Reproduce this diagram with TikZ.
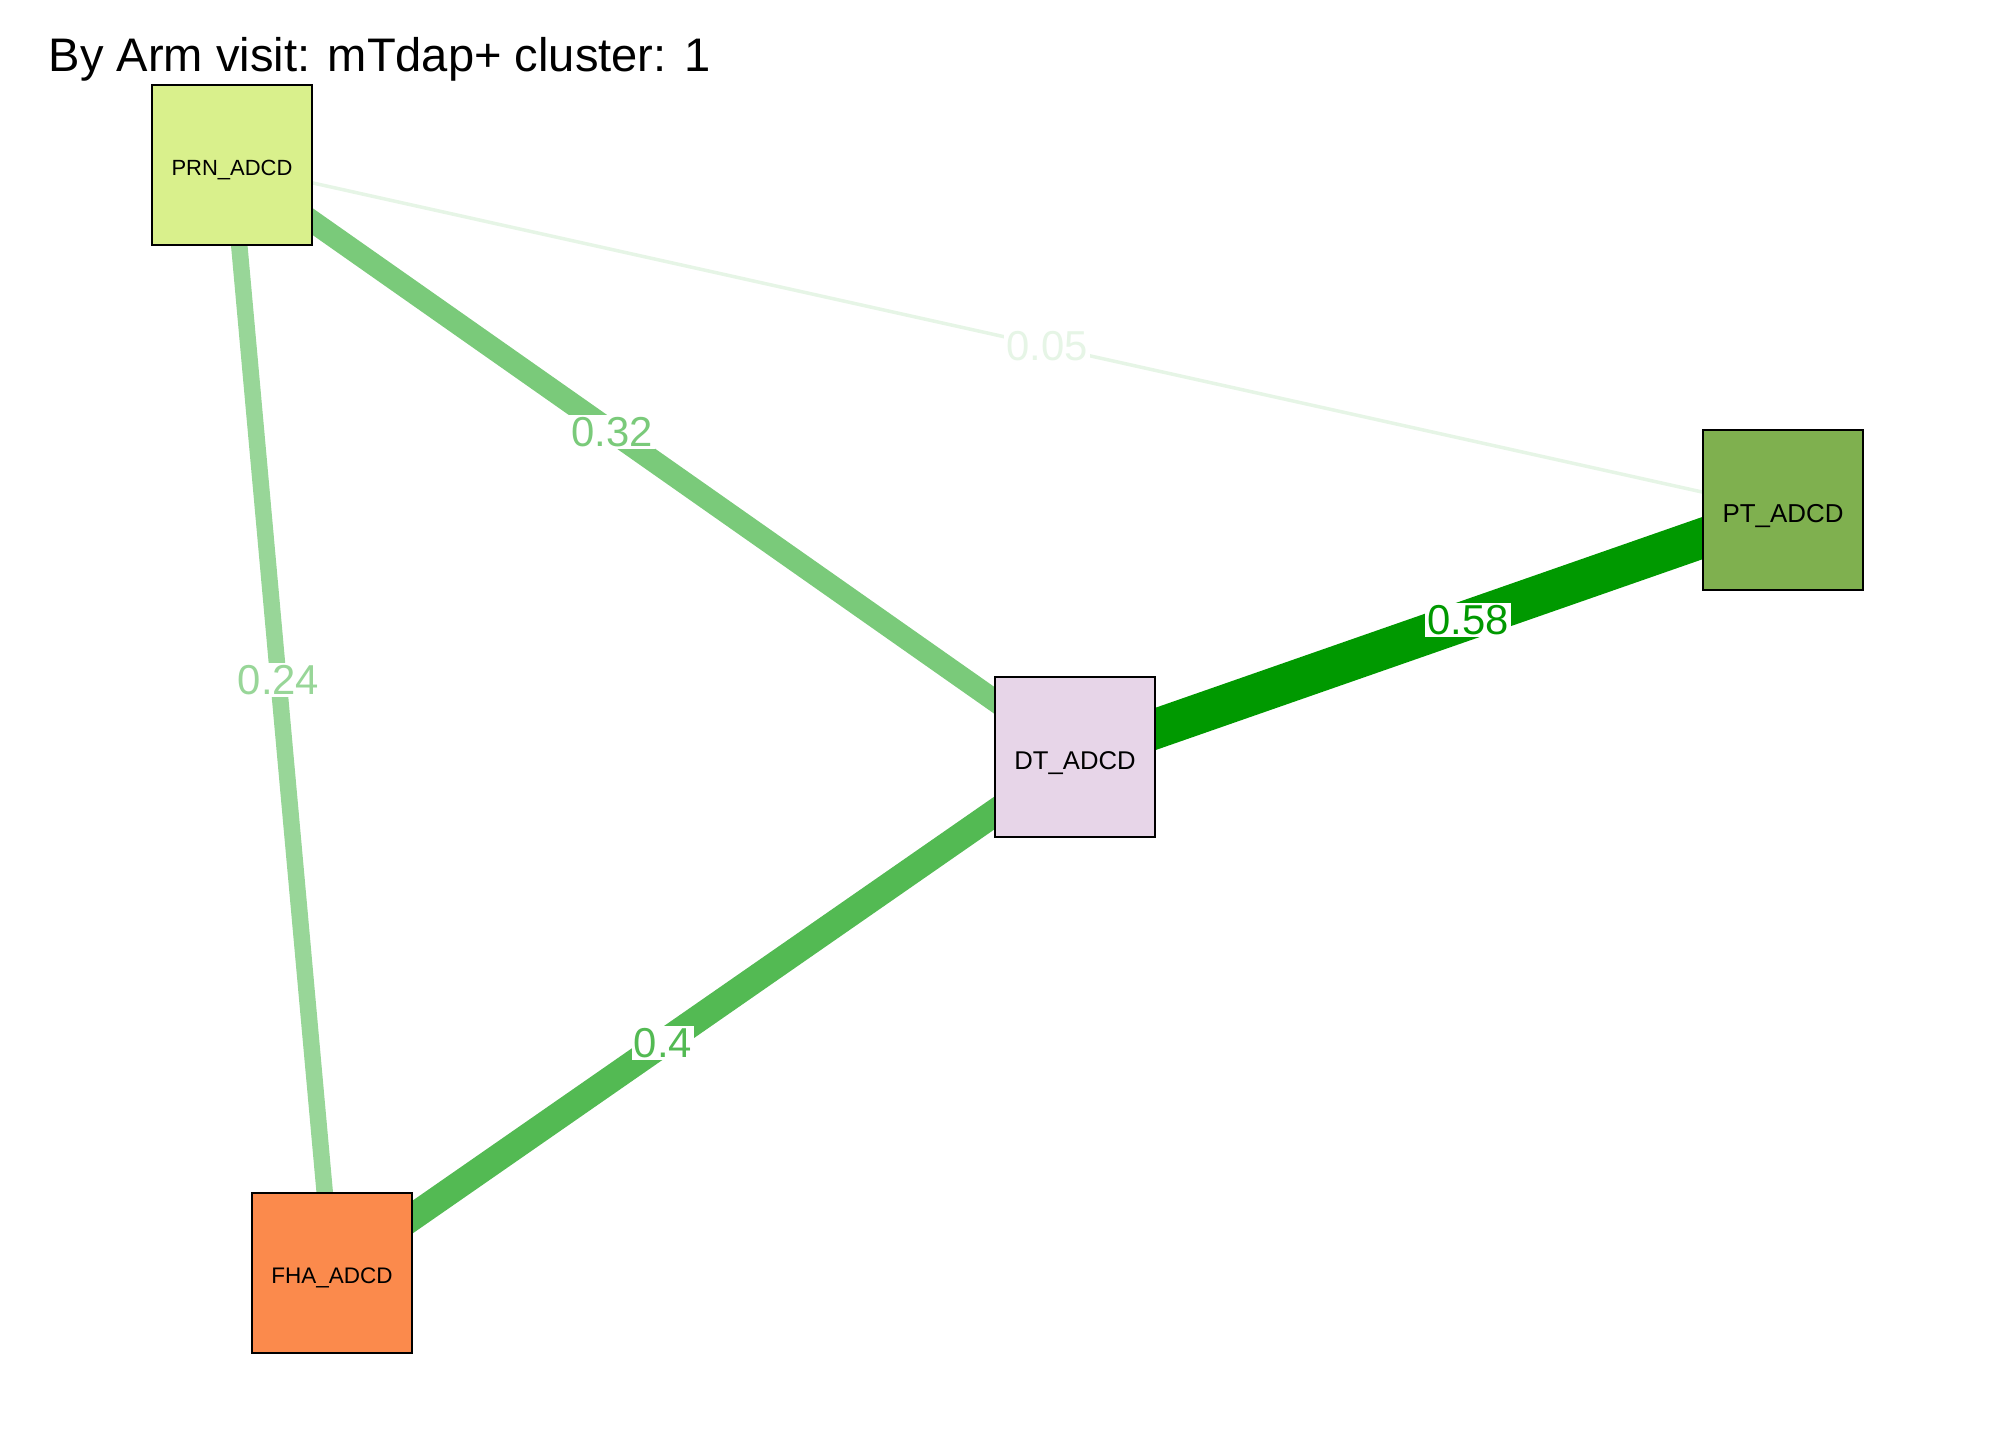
\documentclass[tikz,border=0pt]{standalone}
\usepackage{fontspec}
\setmainfont{Liberation Sans}
\usetikzlibrary{shapes,arrows,positioning,backgrounds}
\definecolor{prnfill}{RGB}{217,240,140}
\definecolor{ptfill}{RGB}{127,176,79}
\definecolor{dtfill}{RGB}{231,213,232}
\definecolor{fhafill}{RGB}{251,138,76}
\definecolor{wfive}{RGB}{230,245,230}
\definecolor{wtwofour}{RGB}{152,214,152}
\definecolor{wthreetwo}{RGB}{122,202,122}
\definecolor{wfour}{RGB}{83,186,83}
\definecolor{wfiveeight}{RGB}{0,153,0}
\tikzset{st/.style={draw, rectangle, line width=0.4pt, minimum size=1.6cm, inner sep=0pt, text depth=0pt, text height={0.94*#1pt}, font=\fontsize{#1}{#1}\selectfont}}
\tikzstyle{wt}=[fill=white, inner sep=0.6pt, font=\fontsize{11.9}{14}\selectfont]

\begin{document}
\begin{tikzpicture}
\useasboundingbox (0,0) rectangle (20.16,14.40);
\node[anchor=base west, inner sep=0pt, font=\fontsize{13.4}{16}\selectfont] (title) at (0.48,13.68) {By Arm visit: mTdap+ cluster: 1};
\node[st=6.25, fill=prnfill] (PRN) at (2.32,12.75) {PRN\_ADCD};
\node[st=7.37, fill=ptfill] (PT) at (17.83,9.30) {PT\_ADCD};
\node[st=7.3, fill=dtfill] (DT) at (10.75,6.83) {DT\_ADCD};
\node[st=6.4, fill=fhafill] (FHA) at (3.32,1.67) {FHA\_ADCD};
\begin{scope}[on background layer]
\path (PRN.center) edge[draw=wfive, line width=0.035cm] node[wt, text=wfive, pos=0.5255] {0.05} (PT.center)
      (PRN.center) edge[draw=wthreetwo, line width=0.22cm] node[wt, text=wthreetwo, pos=0.451] {0.32} (DT.center)
      (PRN.center) edge[draw=wtwofour, line width=0.165cm] node[wt, text=wtwofour, pos=0.465] {0.24} (FHA.center)
      (FHA.center) edge[draw=wfour, line width=0.27cm] node[wt, text=wfour, pos=0.4455] {0.4} (DT.center)
      (DT.center) edge[draw=wfiveeight, line width=0.40cm] node[wt, text=wfiveeight, pos=0.555] {0.58} (PT.center);
\end{scope}
\end{tikzpicture}
\end{document}
